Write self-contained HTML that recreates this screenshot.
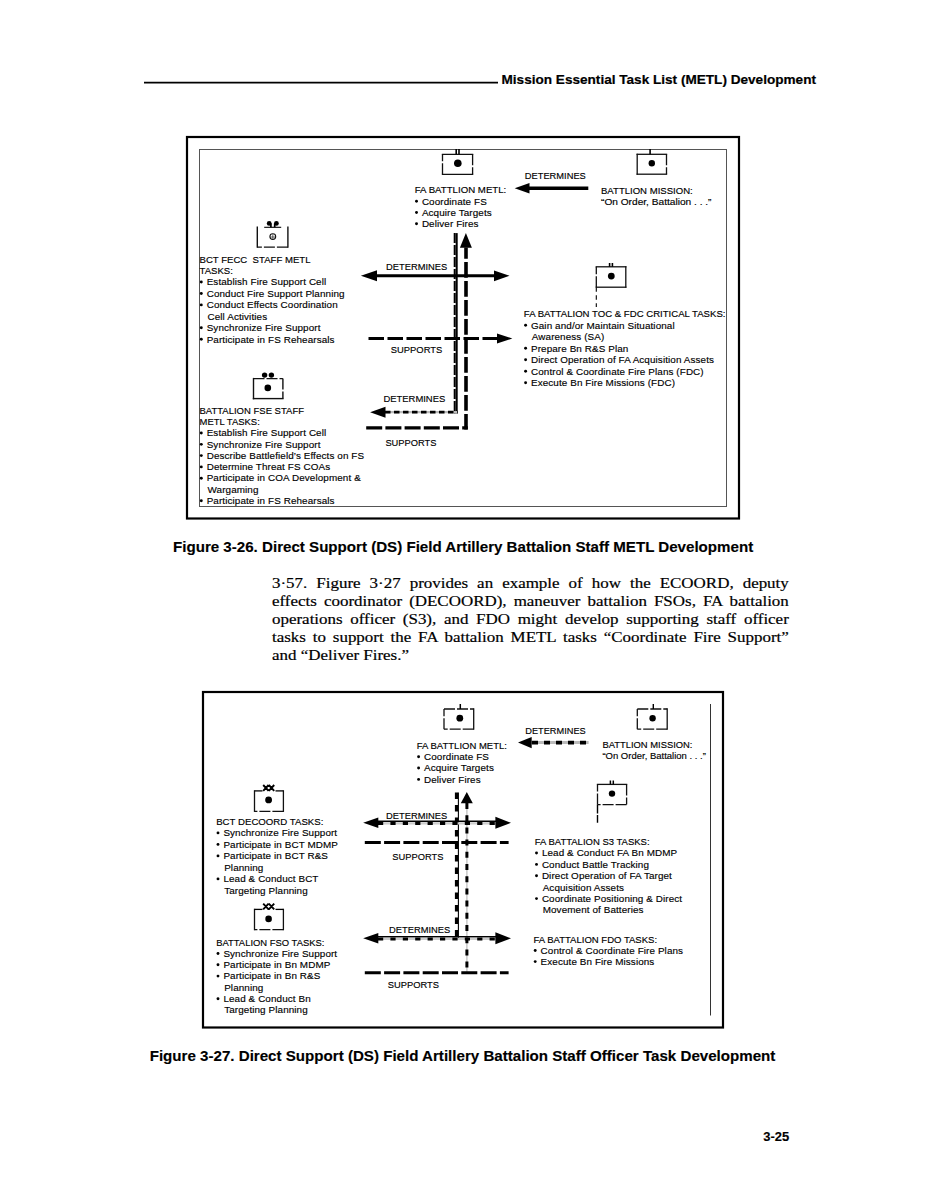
<!DOCTYPE html>
<html><head><meta charset="utf-8"><title>Mission Essential Task List (METL) Development</title>
<style>
html,body{margin:0;padding:0;background:#fff;}
body{width:926px;height:1198px;position:relative;overflow:hidden;}
.pl{position:absolute;left:272.2px;width:457.35px;font-family:"Liberation Serif",serif;font-size:15px;line-height:18.0px;color:#000;white-space:nowrap;-webkit-text-stroke:0.2px #000;transform:scaleX(1.13);transform-origin:0 0;}
</style></head><body>
<svg width="926" height="1198" viewBox="0 0 926 1198" style="position:absolute;left:0;top:0">
<line x1="144" y1="82.7" x2="498" y2="82.7" stroke="#000" stroke-width="1.8" stroke-linecap="butt"/>
<text x="501.5" y="84.2" font-size="13.5" font-weight="bold" font-family="Liberation Sans" fill="#000" xml:space="preserve" textLength="314.5" lengthAdjust="spacingAndGlyphs" stroke="#000" stroke-width="0.2">Mission Essential Task List (METL) Development</text>
<rect x="187" y="137" width="552" height="381.5" stroke="#000" stroke-width="2.2" fill="none"/>
<rect x="199.5" y="149.5" width="527" height="357" stroke="#555" stroke-width="1" fill="none"/>
<line x1="442.5" y1="154.3" x2="472.6" y2="154.3" stroke="#111" stroke-width="1.3" stroke-linecap="square"/>
<line x1="472.6" y1="154.3" x2="472.6" y2="174.3" stroke="#111" stroke-width="1.3" stroke-dasharray="11,2" stroke-linecap="butt"/>
<line x1="472.6" y1="174.3" x2="442.5" y2="174.3" stroke="#111" stroke-width="1.3" stroke-linecap="square"/>
<line x1="442.5" y1="174.3" x2="442.5" y2="154.3" stroke="#111" stroke-width="1.3" stroke-dasharray="11,2" stroke-linecap="butt"/>
<line x1="456.2" y1="149" x2="456.2" y2="154.3" stroke="#000" stroke-width="1.6" stroke-linecap="butt"/>
<line x1="459" y1="149" x2="459" y2="154.3" stroke="#000" stroke-width="1.6" stroke-linecap="butt"/>
<circle cx="457.8" cy="163.2" r="3.8" fill="#000"/>
<line x1="637.2" y1="154.3" x2="666.5" y2="154.3" stroke="#111" stroke-width="1.3" stroke-linecap="square"/>
<line x1="666.5" y1="154.3" x2="666.5" y2="174.2" stroke="#111" stroke-width="1.3" stroke-dasharray="11,2" stroke-linecap="butt"/>
<line x1="666.5" y1="174.2" x2="637.2" y2="174.2" stroke="#111" stroke-width="1.3" stroke-linecap="square"/>
<line x1="637.2" y1="174.2" x2="637.2" y2="154.3" stroke="#111" stroke-width="1.3" stroke-linecap="square"/>
<line x1="650.1" y1="149" x2="650.1" y2="154.3" stroke="#000" stroke-width="1.6" stroke-linecap="butt"/>
<circle cx="651.8" cy="163.2" r="3.2" fill="#000"/>
<line x1="287.9" y1="227.2" x2="287.9" y2="247.1" stroke="#111" stroke-width="1.4" stroke-linecap="square"/>
<line x1="287.9" y1="247.1" x2="257.3" y2="247.1" stroke="#111" stroke-width="1.4" stroke-dasharray="11,2" stroke-linecap="butt"/>
<line x1="257.3" y1="247.1" x2="257.3" y2="227.2" stroke="#111" stroke-width="1.4" stroke-linecap="square"/>
<line x1="264.2" y1="227.3" x2="281.2" y2="227.3" stroke="#000" stroke-width="1.1" stroke-linecap="butt"/>
<circle cx="269.2" cy="223.4" r="2.4" fill="#000"/>
<circle cx="276.4" cy="223.4" r="2.4" fill="#000"/>
<line x1="270.9" y1="223.5" x2="270.9" y2="227.3" stroke="#000" stroke-width="1.7" stroke-linecap="butt"/>
<line x1="274.7" y1="223.5" x2="274.7" y2="227.3" stroke="#000" stroke-width="1.7" stroke-linecap="butt"/>
<circle cx="272.8" cy="236.6" r="2.9" fill="none" stroke="#111" stroke-width="1.1"/>
<line x1="270.2" y1="237" x2="275.4" y2="237" stroke="#000" stroke-width="0.6" stroke-linecap="butt"/>
<line x1="272.8" y1="234.5" x2="272.8" y2="239.3" stroke="#000" stroke-width="0.6" stroke-linecap="butt"/>
<line x1="596.3" y1="266.8" x2="625.8" y2="266.8" stroke="#111" stroke-width="1.3" stroke-linecap="square"/>
<line x1="625.8" y1="266.8" x2="625.8" y2="287.2" stroke="#111" stroke-width="1.3" stroke-linecap="square"/>
<line x1="625.8" y1="287.2" x2="596.3" y2="287.2" stroke="#111" stroke-width="1.3" stroke-linecap="square"/>
<line x1="596.3" y1="287.2" x2="596.3" y2="266.8" stroke="#111" stroke-width="1.3" stroke-dasharray="11,2" stroke-linecap="butt"/>
<line x1="609.6" y1="263" x2="609.6" y2="266.8" stroke="#000" stroke-width="1.6" stroke-linecap="butt"/>
<line x1="612.4" y1="263" x2="612.4" y2="266.8" stroke="#000" stroke-width="1.6" stroke-linecap="butt"/>
<line x1="596.3" y1="287.2" x2="596.3" y2="307" stroke="#000" stroke-width="1.1" stroke-dasharray="4.5,3.5" stroke-linecap="butt"/>
<circle cx="611.3" cy="276.1" r="3.4" fill="#000"/>
<line x1="253.5" y1="378.6" x2="282.9" y2="378.6" stroke="#111" stroke-width="1.4" stroke-dasharray="11,2" stroke-linecap="butt"/>
<line x1="282.9" y1="378.6" x2="282.9" y2="398.6" stroke="#111" stroke-width="1.4" stroke-dasharray="11,2" stroke-linecap="butt"/>
<line x1="282.9" y1="398.6" x2="253.5" y2="398.6" stroke="#111" stroke-width="1.4" stroke-linecap="square"/>
<line x1="253.5" y1="398.6" x2="253.5" y2="378.6" stroke="#111" stroke-width="1.4" stroke-linecap="square"/>
<circle cx="264.6" cy="375.1" r="2.7" fill="#000"/>
<circle cx="271.4" cy="375.1" r="2.7" fill="#000"/>
<circle cx="267.8" cy="387.9" r="3.3" fill="#000"/>
<line x1="529" y1="188.3" x2="588.3" y2="188.3" stroke="#000" stroke-width="3.4" stroke-linecap="butt"/>
<polygon points="514.7,188.3 529.5,183.1 529.5,188.3 529.5,193.5" fill="#000"/>
<text x="524.8" y="178.9" font-size="9.8" font-weight="normal" font-family="Liberation Sans" fill="#000" xml:space="preserve" textLength="61" lengthAdjust="spacingAndGlyphs" stroke="#000" stroke-width="0.15">DETERMINES</text>
<text x="414.7" y="193.2" font-size="9.8" font-weight="normal" font-family="Liberation Sans" fill="#000" xml:space="preserve" textLength="91.6" lengthAdjust="spacingAndGlyphs" stroke="#000" stroke-width="0.15">FA BATTLION METL:</text>
<circle cx="416.5" cy="201.2" r="1.45" fill="#000"/>
<text x="421.9" y="204.5" font-size="9.9" font-weight="normal" font-family="Liberation Sans" fill="#000" xml:space="preserve" letter-spacing="0.1" stroke="#000" stroke-width="0.15">Coordinate FS</text>
<circle cx="416.5" cy="212.5" r="1.45" fill="#000"/>
<text x="421.9" y="215.8" font-size="9.9" font-weight="normal" font-family="Liberation Sans" fill="#000" xml:space="preserve" letter-spacing="0.1" stroke="#000" stroke-width="0.15">Acquire Targets</text>
<circle cx="416.5" cy="223.8" r="1.45" fill="#000"/>
<text x="421.9" y="227.1" font-size="9.9" font-weight="normal" font-family="Liberation Sans" fill="#000" xml:space="preserve" letter-spacing="0.1" stroke="#000" stroke-width="0.15">Deliver Fires</text>
<text x="601" y="193.7" font-size="9.8" font-weight="normal" font-family="Liberation Sans" fill="#000" xml:space="preserve" textLength="91.7" lengthAdjust="spacingAndGlyphs" stroke="#000" stroke-width="0.15">BATTLION MISSION:</text>
<text x="601" y="204.9" font-size="9.8" font-weight="normal" font-family="Liberation Sans" fill="#000" xml:space="preserve" textLength="110.5" lengthAdjust="spacingAndGlyphs" stroke="#000" stroke-width="0.15">“On Order, Battalion . . .”</text>
<text x="199.5" y="262.5" font-size="9.8" font-weight="normal" font-family="Liberation Sans" fill="#000" xml:space="preserve" textLength="111" lengthAdjust="spacingAndGlyphs" stroke="#000" stroke-width="0.15">BCT FECC  STAFF METL</text>
<text x="199.5" y="273.93" font-size="9.8" font-weight="normal" font-family="Liberation Sans" fill="#000" xml:space="preserve" textLength="33.3" lengthAdjust="spacingAndGlyphs" stroke="#000" stroke-width="0.15">TASKS:</text>
<circle cx="201.3" cy="282.06" r="1.45" fill="#000"/>
<text x="206.7" y="285.36" font-size="9.9" font-weight="normal" font-family="Liberation Sans" fill="#000" xml:space="preserve" letter-spacing="0.1" stroke="#000" stroke-width="0.15">Establish Fire Support Cell</text>
<circle cx="201.3" cy="293.49" r="1.45" fill="#000"/>
<text x="206.7" y="296.79" font-size="9.9" font-weight="normal" font-family="Liberation Sans" fill="#000" xml:space="preserve" letter-spacing="0.1" stroke="#000" stroke-width="0.15">Conduct Fire Support Planning</text>
<circle cx="201.3" cy="304.92" r="1.45" fill="#000"/>
<text x="206.7" y="308.22" font-size="9.9" font-weight="normal" font-family="Liberation Sans" fill="#000" xml:space="preserve" letter-spacing="0.1" stroke="#000" stroke-width="0.15">Conduct Effects Coordination</text>
<text x="207.5" y="319.65" font-size="9.9" font-weight="normal" font-family="Liberation Sans" fill="#000" xml:space="preserve" letter-spacing="0.1" stroke="#000" stroke-width="0.15">Cell Activities</text>
<circle cx="201.3" cy="327.78" r="1.45" fill="#000"/>
<text x="206.7" y="331.08" font-size="9.9" font-weight="normal" font-family="Liberation Sans" fill="#000" xml:space="preserve" letter-spacing="0.1" stroke="#000" stroke-width="0.15">Synchronize Fire Support</text>
<circle cx="201.3" cy="339.21" r="1.45" fill="#000"/>
<text x="206.7" y="342.51" font-size="9.9" font-weight="normal" font-family="Liberation Sans" fill="#000" xml:space="preserve" letter-spacing="0.1" stroke="#000" stroke-width="0.15">Participate in FS Rehearsals</text>
<text x="199.5" y="413.8" font-size="9.8" font-weight="normal" font-family="Liberation Sans" fill="#000" xml:space="preserve" textLength="104.5" lengthAdjust="spacingAndGlyphs" stroke="#000" stroke-width="0.15">BATTALION FSE STAFF</text>
<text x="199.5" y="425.08" font-size="9.8" font-weight="normal" font-family="Liberation Sans" fill="#000" xml:space="preserve" textLength="60.3" lengthAdjust="spacingAndGlyphs" stroke="#000" stroke-width="0.15">METL TASKS:</text>
<circle cx="201.3" cy="433.06" r="1.45" fill="#000"/>
<text x="206.7" y="436.36" font-size="9.9" font-weight="normal" font-family="Liberation Sans" fill="#000" xml:space="preserve" letter-spacing="0.1" stroke="#000" stroke-width="0.15">Establish Fire Support Cell</text>
<circle cx="201.3" cy="444.34" r="1.45" fill="#000"/>
<text x="206.7" y="447.64" font-size="9.9" font-weight="normal" font-family="Liberation Sans" fill="#000" xml:space="preserve" letter-spacing="0.1" stroke="#000" stroke-width="0.15">Synchronize Fire Support</text>
<circle cx="201.3" cy="455.62" r="1.45" fill="#000"/>
<text x="206.7" y="458.92" font-size="9.9" font-weight="normal" font-family="Liberation Sans" fill="#000" xml:space="preserve" letter-spacing="0.1" stroke="#000" stroke-width="0.15">Describe Battlefield’s Effects on FS</text>
<circle cx="201.3" cy="466.9" r="1.45" fill="#000"/>
<text x="206.7" y="470.2" font-size="9.9" font-weight="normal" font-family="Liberation Sans" fill="#000" xml:space="preserve" letter-spacing="0.1" stroke="#000" stroke-width="0.15">Determine Threat FS COAs</text>
<circle cx="201.3" cy="478.18" r="1.45" fill="#000"/>
<text x="206.7" y="481.48" font-size="9.9" font-weight="normal" font-family="Liberation Sans" fill="#000" xml:space="preserve" letter-spacing="0.1" stroke="#000" stroke-width="0.15">Participate in COA Development &amp;</text>
<text x="207.5" y="492.76" font-size="9.9" font-weight="normal" font-family="Liberation Sans" fill="#000" xml:space="preserve" letter-spacing="0.1" stroke="#000" stroke-width="0.15">Wargaming</text>
<circle cx="201.3" cy="500.74" r="1.45" fill="#000"/>
<text x="206.7" y="504.04" font-size="9.9" font-weight="normal" font-family="Liberation Sans" fill="#000" xml:space="preserve" letter-spacing="0.1" stroke="#000" stroke-width="0.15">Participate in FS Rehearsals</text>
<text x="523.8" y="317.1" font-size="9.8" font-weight="normal" font-family="Liberation Sans" fill="#000" xml:space="preserve" textLength="201.7" lengthAdjust="spacingAndGlyphs" stroke="#000" stroke-width="0.15">FA BATTALION TOC &amp; FDC CRITICAL TASKS:</text>
<circle cx="525.6" cy="325.3" r="1.45" fill="#000"/>
<text x="531" y="328.6" font-size="9.9" font-weight="normal" font-family="Liberation Sans" fill="#000" xml:space="preserve" letter-spacing="0.1" stroke="#000" stroke-width="0.15">Gain and/or Maintain Situational</text>
<text x="531.8" y="340.1" font-size="9.9" font-weight="normal" font-family="Liberation Sans" fill="#000" xml:space="preserve" letter-spacing="0.1" stroke="#000" stroke-width="0.15">Awareness (SA)</text>
<circle cx="525.6" cy="348.3" r="1.45" fill="#000"/>
<text x="531" y="351.6" font-size="9.9" font-weight="normal" font-family="Liberation Sans" fill="#000" xml:space="preserve" letter-spacing="0.1" stroke="#000" stroke-width="0.15">Prepare Bn R&amp;S Plan</text>
<circle cx="525.6" cy="359.8" r="1.45" fill="#000"/>
<text x="531" y="363.1" font-size="9.9" font-weight="normal" font-family="Liberation Sans" fill="#000" xml:space="preserve" letter-spacing="0.1" stroke="#000" stroke-width="0.15">Direct Operation of FA Acquisition Assets</text>
<circle cx="525.6" cy="371.3" r="1.45" fill="#000"/>
<text x="531" y="374.6" font-size="9.9" font-weight="normal" font-family="Liberation Sans" fill="#000" xml:space="preserve" letter-spacing="0.1" stroke="#000" stroke-width="0.15">Control &amp; Coordinate Fire Plans (FDC)</text>
<circle cx="525.6" cy="382.8" r="1.45" fill="#000"/>
<text x="531" y="386.1" font-size="9.9" font-weight="normal" font-family="Liberation Sans" fill="#000" xml:space="preserve" letter-spacing="0.1" stroke="#000" stroke-width="0.15">Execute Bn Fire Missions (FDC)</text>
<line x1="456.7" y1="233.1" x2="456.7" y2="413.4" stroke="#000" stroke-width="2" stroke-linecap="butt"/>
<line x1="454.7" y1="233.1" x2="454.7" y2="413.4" stroke="#000" stroke-width="2" stroke-dasharray="10,2" stroke-linecap="butt"/>
<line x1="385" y1="412.1" x2="457.7" y2="412.1" stroke="#bbb" stroke-width="2.4" stroke-linecap="butt"/>
<line x1="385" y1="412.1" x2="457.7" y2="412.1" stroke="#000" stroke-width="2.6" stroke-dasharray="5.5,3.5" stroke-linecap="butt"/>
<polygon points="370.1,412.2 385.5,406.7 385.5,412.2 385.5,417.7" fill="#000"/>
<line x1="466" y1="247.5" x2="466" y2="429.6" stroke="#000" stroke-width="3.6" stroke-dasharray="15.8,3.2" stroke-dashoffset="4.6" stroke-linecap="butt"/>
<polygon points="465.9,233.1 459.9,247.7 465.9,247.7 471.9,247.7" fill="#000"/>
<line x1="366.2" y1="427.9" x2="467.8" y2="427.9" stroke="#000" stroke-width="3.2" stroke-dasharray="16,3.2" stroke-linecap="butt"/>
<line x1="376" y1="275.7" x2="495" y2="275.7" stroke="#000" stroke-width="3" stroke-linecap="butt"/>
<polygon points="360.9,275.8 377,270.3 377,275.8 377,281.3" fill="#000"/>
<polygon points="509.5,275.8 494,270.4 494,275.8 494,281.2" fill="#000"/>
<line x1="368.5" y1="338.5" x2="497.5" y2="338.5" stroke="#000" stroke-width="3.2" stroke-dasharray="15.5,3.5" stroke-linecap="butt"/>
<polygon points="512.3,338.5 497,333.5 497,338.5 497,343.5" fill="#000"/>
<text x="386" y="269.6" font-size="9.8" font-weight="normal" font-family="Liberation Sans" fill="#000" xml:space="preserve" textLength="61.2" lengthAdjust="spacingAndGlyphs" stroke="#000" stroke-width="0.15">DETERMINES</text>
<text x="390.8" y="352.9" font-size="9.8" font-weight="normal" font-family="Liberation Sans" fill="#000" xml:space="preserve" textLength="51.5" lengthAdjust="spacingAndGlyphs" stroke="#000" stroke-width="0.15">SUPPORTS</text>
<text x="383.4" y="401.7" font-size="9.8" font-weight="normal" font-family="Liberation Sans" fill="#000" xml:space="preserve" textLength="61.9" lengthAdjust="spacingAndGlyphs" stroke="#000" stroke-width="0.15">DETERMINES</text>
<text x="385.4" y="445.8" font-size="9.8" font-weight="normal" font-family="Liberation Sans" fill="#000" xml:space="preserve" textLength="51.1" lengthAdjust="spacingAndGlyphs" stroke="#000" stroke-width="0.15">SUPPORTS</text>
<rect x="203" y="692" width="520" height="335.5" stroke="#000" stroke-width="2.2" fill="none"/>
<line x1="710.5" y1="704" x2="710.5" y2="1015.5" stroke="#333" stroke-width="1" stroke-linecap="butt"/>
<line x1="444" y1="709" x2="473.7" y2="709" stroke="#111" stroke-width="1.3" stroke-dasharray="11,2" stroke-linecap="butt"/>
<line x1="473.7" y1="709" x2="473.7" y2="729.2" stroke="#111" stroke-width="1.3" stroke-linecap="square"/>
<line x1="473.7" y1="729.2" x2="444" y2="729.2" stroke="#111" stroke-width="1.3" stroke-dasharray="11,2" stroke-linecap="butt"/>
<line x1="444" y1="729.2" x2="444" y2="709" stroke="#111" stroke-width="1.3" stroke-dasharray="11,2" stroke-linecap="butt"/>
<line x1="460.3" y1="704" x2="460.3" y2="709" stroke="#000" stroke-width="1.5" stroke-linecap="butt"/>
<circle cx="459.8" cy="718.2" r="3.4" fill="#000"/>
<line x1="637.3" y1="709" x2="667.2" y2="709" stroke="#111" stroke-width="1.3" stroke-dasharray="11,2" stroke-linecap="butt"/>
<line x1="667.2" y1="709" x2="667.2" y2="729.2" stroke="#111" stroke-width="1.3" stroke-linecap="square"/>
<line x1="667.2" y1="729.2" x2="637.3" y2="729.2" stroke="#111" stroke-width="1.3" stroke-dasharray="11,2" stroke-linecap="butt"/>
<line x1="637.3" y1="729.2" x2="637.3" y2="709" stroke="#111" stroke-width="1.3" stroke-dasharray="11,2" stroke-linecap="butt"/>
<line x1="653.3" y1="704" x2="653.3" y2="709" stroke="#000" stroke-width="1.4" stroke-linecap="butt"/>
<circle cx="652.6" cy="718.2" r="3.2" fill="#000"/>
<line x1="283.4" y1="790.9" x2="283.4" y2="811.3" stroke="#111" stroke-width="1.3" stroke-linecap="square"/>
<line x1="283.4" y1="811.3" x2="254.5" y2="811.3" stroke="#111" stroke-width="1.3" stroke-dasharray="11,2" stroke-linecap="butt"/>
<line x1="254.5" y1="811.3" x2="254.5" y2="790.9" stroke="#111" stroke-width="1.3" stroke-linecap="square"/>
<line x1="254.5" y1="790.9" x2="262.5" y2="790.9" stroke="#000" stroke-width="1.3" stroke-linecap="butt"/>
<line x1="275.5" y1="790.9" x2="283.4" y2="790.9" stroke="#000" stroke-width="1.3" stroke-linecap="butt"/>
<path d="M263.2,785 l5.4,5.8 M268.6,785 l-5.4,5.8 M268.8,785 l5.4,5.8 M274.2,785 l-5.4,5.8" stroke="#000" stroke-width="1.9" fill="none"/>
<circle cx="268.6" cy="799.9" r="3.4" fill="#000"/>
<line x1="283.4" y1="909.4" x2="283.4" y2="929.6" stroke="#111" stroke-width="1.3" stroke-linecap="square"/>
<line x1="283.4" y1="929.6" x2="254.5" y2="929.6" stroke="#111" stroke-width="1.3" stroke-dasharray="11,2" stroke-linecap="butt"/>
<line x1="254.5" y1="929.6" x2="254.5" y2="909.4" stroke="#111" stroke-width="1.3" stroke-linecap="square"/>
<line x1="254.5" y1="909.4" x2="262.5" y2="909.4" stroke="#000" stroke-width="1.3" stroke-linecap="butt"/>
<line x1="275.5" y1="909.4" x2="283.4" y2="909.4" stroke="#000" stroke-width="1.3" stroke-linecap="butt"/>
<path d="M263.2,903.6 l5.4,5.8 M268.6,903.6 l-5.4,5.8 M268.8,903.6 l5.4,5.8 M274.2,903.6 l-5.4,5.8" stroke="#000" stroke-width="1.9" fill="none"/>
<circle cx="268.6" cy="918.9" r="3.3" fill="#000"/>
<line x1="597.5" y1="784.4" x2="626.6" y2="784.4" stroke="#111" stroke-width="1.3" stroke-linecap="square"/>
<line x1="626.6" y1="784.4" x2="626.6" y2="804.6" stroke="#111" stroke-width="1.3" stroke-dasharray="11,2" stroke-linecap="butt"/>
<line x1="626.6" y1="804.6" x2="597.5" y2="804.6" stroke="#111" stroke-width="1.3" stroke-dasharray="11,2" stroke-linecap="butt"/>
<line x1="597.5" y1="804.6" x2="597.5" y2="784.4" stroke="#111" stroke-width="1.3" stroke-dasharray="11,2" stroke-linecap="butt"/>
<line x1="610.4" y1="780.5" x2="610.4" y2="784.4" stroke="#000" stroke-width="1.5" stroke-linecap="butt"/>
<line x1="613.3" y1="780.5" x2="613.3" y2="784.4" stroke="#000" stroke-width="1.5" stroke-linecap="butt"/>
<line x1="597.5" y1="804.6" x2="597.5" y2="822.8" stroke="#000" stroke-width="1.4" stroke-dasharray="9,1.5" stroke-linecap="butt"/>
<circle cx="612" cy="793.6" r="3.2" fill="#000"/>
<line x1="531" y1="742.6" x2="588.6" y2="742.6" stroke="#bbb" stroke-width="3" stroke-linecap="butt"/>
<line x1="531" y1="742.6" x2="588.6" y2="742.6" stroke="#000" stroke-width="3.6" stroke-dasharray="6,6" stroke-dashoffset="-1" stroke-linecap="butt"/>
<polygon points="518,742.6 531.7,737 531.7,742.6 531.7,748.2" fill="#000"/>
<text x="525.3" y="734.3" font-size="9.8" font-weight="normal" font-family="Liberation Sans" fill="#000" xml:space="preserve" textLength="60.4" lengthAdjust="spacingAndGlyphs" stroke="#000" stroke-width="0.15">DETERMINES</text>
<text x="416.8" y="748.7" font-size="9.8" font-weight="normal" font-family="Liberation Sans" fill="#000" xml:space="preserve" textLength="90.1" lengthAdjust="spacingAndGlyphs" stroke="#000" stroke-width="0.15">FA BATTLION METL:</text>
<circle cx="418.6" cy="756.73" r="1.45" fill="#000"/>
<text x="424" y="760.03" font-size="9.9" font-weight="normal" font-family="Liberation Sans" fill="#000" xml:space="preserve" letter-spacing="0.1" stroke="#000" stroke-width="0.15">Coordinate FS</text>
<circle cx="418.6" cy="768.06" r="1.45" fill="#000"/>
<text x="424" y="771.36" font-size="9.9" font-weight="normal" font-family="Liberation Sans" fill="#000" xml:space="preserve" letter-spacing="0.1" stroke="#000" stroke-width="0.15">Acquire Targets</text>
<circle cx="418.6" cy="779.39" r="1.45" fill="#000"/>
<text x="424" y="782.69" font-size="9.9" font-weight="normal" font-family="Liberation Sans" fill="#000" xml:space="preserve" letter-spacing="0.1" stroke="#000" stroke-width="0.15">Deliver Fires</text>
<text x="602.4" y="748.2" font-size="9.8" font-weight="normal" font-family="Liberation Sans" fill="#000" xml:space="preserve" textLength="90.1" lengthAdjust="spacingAndGlyphs" stroke="#000" stroke-width="0.15">BATTLION MISSION:</text>
<text x="602.4" y="759" font-size="9.8" font-weight="normal" font-family="Liberation Sans" fill="#000" xml:space="preserve" textLength="103.5" lengthAdjust="spacingAndGlyphs" stroke="#000" stroke-width="0.15">“On Order, Battalion . . .”</text>
<text x="216.2" y="824.7" font-size="9.8" font-weight="normal" font-family="Liberation Sans" fill="#000" xml:space="preserve" textLength="107.2" lengthAdjust="spacingAndGlyphs" stroke="#000" stroke-width="0.15">BCT DECOORD TASKS:</text>
<circle cx="218" cy="832.9" r="1.45" fill="#000"/>
<text x="223.4" y="836.2" font-size="9.9" font-weight="normal" font-family="Liberation Sans" fill="#000" xml:space="preserve" letter-spacing="0.1" stroke="#000" stroke-width="0.15">Synchronize Fire Support</text>
<circle cx="218" cy="844.4" r="1.45" fill="#000"/>
<text x="223.4" y="847.7" font-size="9.9" font-weight="normal" font-family="Liberation Sans" fill="#000" xml:space="preserve" letter-spacing="0.1" stroke="#000" stroke-width="0.15">Participate in BCT MDMP</text>
<circle cx="218" cy="855.9" r="1.45" fill="#000"/>
<text x="223.4" y="859.2" font-size="9.9" font-weight="normal" font-family="Liberation Sans" fill="#000" xml:space="preserve" letter-spacing="0.1" stroke="#000" stroke-width="0.15">Participate in BCT R&amp;S</text>
<text x="224.2" y="870.7" font-size="9.9" font-weight="normal" font-family="Liberation Sans" fill="#000" xml:space="preserve" letter-spacing="0.1" stroke="#000" stroke-width="0.15">Planning</text>
<circle cx="218" cy="878.9" r="1.45" fill="#000"/>
<text x="223.4" y="882.2" font-size="9.9" font-weight="normal" font-family="Liberation Sans" fill="#000" xml:space="preserve" letter-spacing="0.1" stroke="#000" stroke-width="0.15">Lead &amp; Conduct BCT</text>
<text x="224.2" y="893.7" font-size="9.9" font-weight="normal" font-family="Liberation Sans" fill="#000" xml:space="preserve" letter-spacing="0.1" stroke="#000" stroke-width="0.15">Targeting Planning</text>
<text x="216.2" y="945.5" font-size="9.8" font-weight="normal" font-family="Liberation Sans" fill="#000" xml:space="preserve" textLength="108.2" lengthAdjust="spacingAndGlyphs" stroke="#000" stroke-width="0.15">BATTALION FSO TASKS:</text>
<circle cx="218" cy="953.5" r="1.45" fill="#000"/>
<text x="223.4" y="956.8" font-size="9.9" font-weight="normal" font-family="Liberation Sans" fill="#000" xml:space="preserve" letter-spacing="0.1" stroke="#000" stroke-width="0.15">Synchronize Fire Support</text>
<circle cx="218" cy="964.8" r="1.45" fill="#000"/>
<text x="223.4" y="968.1" font-size="9.9" font-weight="normal" font-family="Liberation Sans" fill="#000" xml:space="preserve" letter-spacing="0.1" stroke="#000" stroke-width="0.15">Participate in Bn MDMP</text>
<circle cx="218" cy="976.1" r="1.45" fill="#000"/>
<text x="223.4" y="979.4" font-size="9.9" font-weight="normal" font-family="Liberation Sans" fill="#000" xml:space="preserve" letter-spacing="0.1" stroke="#000" stroke-width="0.15">Participate in Bn R&amp;S</text>
<text x="224.2" y="990.7" font-size="9.9" font-weight="normal" font-family="Liberation Sans" fill="#000" xml:space="preserve" letter-spacing="0.1" stroke="#000" stroke-width="0.15">Planning</text>
<circle cx="218" cy="998.7" r="1.45" fill="#000"/>
<text x="223.4" y="1002" font-size="9.9" font-weight="normal" font-family="Liberation Sans" fill="#000" xml:space="preserve" letter-spacing="0.1" stroke="#000" stroke-width="0.15">Lead &amp; Conduct Bn</text>
<text x="224.2" y="1013.3" font-size="9.9" font-weight="normal" font-family="Liberation Sans" fill="#000" xml:space="preserve" letter-spacing="0.1" stroke="#000" stroke-width="0.15">Targeting Planning</text>
<text x="534.7" y="844.9" font-size="9.8" font-weight="normal" font-family="Liberation Sans" fill="#000" xml:space="preserve" textLength="114.9" lengthAdjust="spacingAndGlyphs" stroke="#000" stroke-width="0.15">FA BATTALION S3 TASKS:</text>
<circle cx="536.5" cy="853" r="1.45" fill="#000"/>
<text x="541.9" y="856.3" font-size="9.9" font-weight="normal" font-family="Liberation Sans" fill="#000" xml:space="preserve" letter-spacing="0.1" stroke="#000" stroke-width="0.15">Lead &amp; Conduct FA Bn MDMP</text>
<circle cx="536.5" cy="864.4" r="1.45" fill="#000"/>
<text x="541.9" y="867.7" font-size="9.9" font-weight="normal" font-family="Liberation Sans" fill="#000" xml:space="preserve" letter-spacing="0.1" stroke="#000" stroke-width="0.15">Conduct Battle Tracking</text>
<circle cx="536.5" cy="875.8" r="1.45" fill="#000"/>
<text x="541.9" y="879.1" font-size="9.9" font-weight="normal" font-family="Liberation Sans" fill="#000" xml:space="preserve" letter-spacing="0.1" stroke="#000" stroke-width="0.15">Direct Operation of FA Target</text>
<text x="542.7" y="890.5" font-size="9.9" font-weight="normal" font-family="Liberation Sans" fill="#000" xml:space="preserve" letter-spacing="0.1" stroke="#000" stroke-width="0.15">Acquisition Assets</text>
<circle cx="536.5" cy="898.6" r="1.45" fill="#000"/>
<text x="541.9" y="901.9" font-size="9.9" font-weight="normal" font-family="Liberation Sans" fill="#000" xml:space="preserve" letter-spacing="0.1" stroke="#000" stroke-width="0.15">Coordinate Positioning &amp; Direct</text>
<text x="542.7" y="913.3" font-size="9.9" font-weight="normal" font-family="Liberation Sans" fill="#000" xml:space="preserve" letter-spacing="0.1" stroke="#000" stroke-width="0.15">Movement of Batteries</text>
<text x="533.4" y="942.7" font-size="9.8" font-weight="normal" font-family="Liberation Sans" fill="#000" xml:space="preserve" textLength="123.7" lengthAdjust="spacingAndGlyphs" stroke="#000" stroke-width="0.15">FA BATTALION FDO TASKS:</text>
<circle cx="535.2" cy="950.5" r="1.45" fill="#000"/>
<text x="540.6" y="953.8" font-size="9.9" font-weight="normal" font-family="Liberation Sans" fill="#000" xml:space="preserve" letter-spacing="0.1" stroke="#000" stroke-width="0.15">Control &amp; Coordinate Fire Plans</text>
<circle cx="535.2" cy="961.6" r="1.45" fill="#000"/>
<text x="540.6" y="964.9" font-size="9.9" font-weight="normal" font-family="Liberation Sans" fill="#000" xml:space="preserve" letter-spacing="0.1" stroke="#000" stroke-width="0.15">Execute Bn Fire Missions</text>
<line x1="458.4" y1="792.6" x2="458.4" y2="938" stroke="#000" stroke-width="1.1" stroke-linecap="butt"/>
<line x1="456.5" y1="792.6" x2="456.5" y2="938" stroke="#000" stroke-width="3.2" stroke-dasharray="6.5,6" stroke-dashoffset="0" stroke-linecap="butt"/>
<line x1="466.9" y1="803" x2="466.9" y2="972" stroke="#bbb" stroke-width="1.2" stroke-linecap="butt"/>
<line x1="466.9" y1="803" x2="466.9" y2="972" stroke="#000" stroke-width="3" stroke-dasharray="6,6.2" stroke-dashoffset="0" stroke-linecap="butt"/>
<polygon points="466.8,792 460.8,803.2 466.8,803.2 472.8,803.2" fill="#000"/>
<line x1="378" y1="821.2" x2="496" y2="821.2" stroke="#000" stroke-width="1.4" stroke-linecap="butt"/>
<line x1="378" y1="823.4" x2="496" y2="823.4" stroke="#ccc" stroke-width="2.4" stroke-linecap="butt"/>
<line x1="378" y1="823.4" x2="496" y2="823.4" stroke="#000" stroke-width="3" stroke-dasharray="5.2,7.2" stroke-linecap="butt"/>
<polygon points="363.2,822.8 378.3,817.5 378.3,822.8 378.3,828.1" fill="#000"/>
<polygon points="511,822.8 495.4,816.8 495.4,822.8 495.4,828.8" fill="#000"/>
<line x1="378" y1="936.7" x2="496" y2="936.7" stroke="#000" stroke-width="1.4" stroke-linecap="butt"/>
<line x1="378" y1="938.9" x2="496" y2="938.9" stroke="#ccc" stroke-width="2.4" stroke-linecap="butt"/>
<line x1="378" y1="938.9" x2="496" y2="938.9" stroke="#000" stroke-width="3" stroke-dasharray="5.2,7.2" stroke-linecap="butt"/>
<polygon points="363.2,938.3 378.3,933 378.3,938.3 378.3,943.6" fill="#000"/>
<polygon points="511,938.3 495.4,932.3 495.4,938.3 495.4,944.3" fill="#000"/>
<line x1="364.8" y1="842.5" x2="508.6" y2="842.5" stroke="#000" stroke-width="3.1" stroke-dasharray="16,3.3" stroke-linecap="butt"/>
<line x1="364.8" y1="972.7" x2="508.6" y2="972.7" stroke="#000" stroke-width="3.1" stroke-dasharray="16,3.3" stroke-linecap="butt"/>
<text x="386.1" y="818.5" font-size="9.8" font-weight="normal" font-family="Liberation Sans" fill="#000" xml:space="preserve" textLength="61.2" lengthAdjust="spacingAndGlyphs" stroke="#000" stroke-width="0.15">DETERMINES</text>
<text x="392.3" y="859.7" font-size="9.8" font-weight="normal" font-family="Liberation Sans" fill="#000" xml:space="preserve" textLength="51.2" lengthAdjust="spacingAndGlyphs" stroke="#000" stroke-width="0.15">SUPPORTS</text>
<text x="389" y="932.9" font-size="9.8" font-weight="normal" font-family="Liberation Sans" fill="#000" xml:space="preserve" textLength="61.3" lengthAdjust="spacingAndGlyphs" stroke="#000" stroke-width="0.15">DETERMINES</text>
<text x="387.7" y="988" font-size="9.8" font-weight="normal" font-family="Liberation Sans" fill="#000" xml:space="preserve" textLength="51.3" lengthAdjust="spacingAndGlyphs" stroke="#000" stroke-width="0.15">SUPPORTS</text>
<text x="173" y="552" font-size="15" font-weight="bold" font-family="Liberation Sans" fill="#000" xml:space="preserve" textLength="580.2" lengthAdjust="spacingAndGlyphs" stroke="#000" stroke-width="0.15">Figure 3-26. Direct Support (DS) Field Artillery Battalion Staff METL Development</text>
<text x="149.7" y="1061.4" font-size="15" font-weight="bold" font-family="Liberation Sans" fill="#000" xml:space="preserve" textLength="625.7" lengthAdjust="spacingAndGlyphs" stroke="#000" stroke-width="0.15">Figure 3-27. Direct Support (DS) Field Artillery Battalion Staff Officer Task Development</text>
<text x="763.2" y="1140.8" font-size="13" font-weight="bold" font-family="Liberation Sans" fill="#000" xml:space="preserve" textLength="25.9" lengthAdjust="spacingAndGlyphs" stroke="#000" stroke-width="0.15">3-25</text>
</svg>
<div class="pl" style="top:573.94px;text-align:justify;text-align-last:justify">3·57. Figure 3·27 provides an example of how the ECOORD, deputy</div><div class="pl" style="top:592.01px;text-align:justify;text-align-last:justify">effects coordinator (DECOORD), maneuver battalion FSOs, FA battalion</div><div class="pl" style="top:610.08px;text-align:justify;text-align-last:justify">operations officer (S3), and FDO might develop supporting staff officer</div><div class="pl" style="top:628.15px;text-align:justify;text-align-last:justify">tasks to support the FA battalion METL tasks “Coordinate Fire Support”</div><div class="pl" style="top:646.22px;text-align:left;text-align-last:left">and “Deliver Fires.”</div>
</body></html>
